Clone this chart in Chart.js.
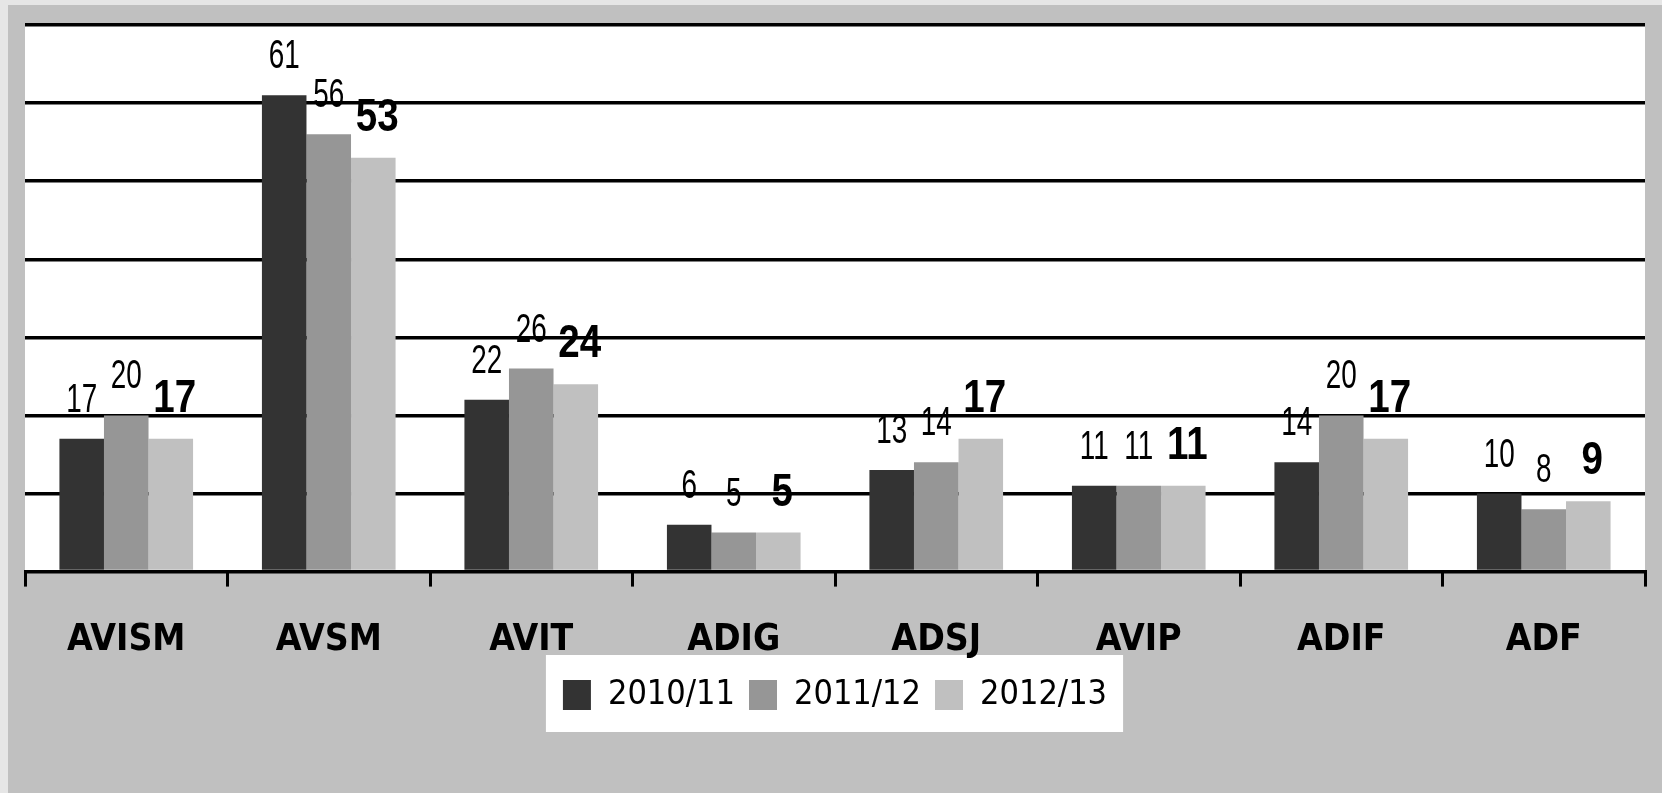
<!DOCTYPE html>
<html>
<head>
<meta charset="utf-8">
<script src="https://cdn.jsdelivr.net/npm/chart.js@4"></script>
<style>
    html, body { margin: 0; padding: 0; background: #e6e6e6; }
    #wrap { position: relative; width: 1662px; height: 793px; }
</style>
</head>
<body>
<div id="wrap"><canvas id="chart"></canvas></div>
<script>
// カテゴリと系列データ
const categories = ['AVISM', 'AVSM', 'AVIT', 'ADIG', 'ADSJ', 'AVIP', 'ADIF', 'ADF'];
const seriesNames = ['2010/11', '2011/12', '2012/13'];
const values2010 = [17, 61, 22, 6, 13, 11, 14, 10];
const values2011 = [20, 56, 26, 5, 14, 11, 20, 8];
const values2012 = [17, 53, 24, 5, 17, 11, 17, 9];
const yTicks = [0, 10, 20, 30, 40, 50, 60, 70];

const COLORS = ['#333333', '#969696', '#c0c0c0'];
const FONT = '"DejaVu Sans Condensed", "Liberation Sans", sans-serif';
const LABEL_FONT = '"Liberation Sans", Arial, sans-serif';

// 背景（外枠・プロット領域・凡例の白い箱）
const backgroundPlugin = {
    id: 'background',
    beforeDraw(chart) {
        const ctx = chart.ctx;
        const area = chart.chartArea;
        ctx.save();
        ctx.fillStyle = '#e6e6e6';
        ctx.fillRect(0, 0, chart.width, chart.height);
        ctx.fillStyle = '#c0c0c0';
        ctx.fillRect(8, 5, chart.width - 8, chart.height - 5);
        ctx.fillStyle = '#ffffff';
        ctx.fillRect(area.left, area.top, area.right - area.left, area.bottom - area.top);

        const boxes = chart.legend && chart.legend.legendHitBoxes;
        if (boxes && boxes.length) {
            const left = Math.min(...boxes.map(b => b.left)) - 17;
            const right = Math.max(...boxes.map(b => b.left + b.width)) + 16;
            const cy = boxes[0].top + boxes[0].height / 2;
            ctx.fillRect(left, cy - 40, right - left, 77);
        }
        ctx.restore();
    }
};

// 棒の上に値を描く（2012/13 は太字）
const valueLabelPlugin = {
    id: 'valueLabels',
    afterDatasetsDraw(chart) {
        const ctx = chart.ctx;
        chart.data.datasets.forEach((ds, i) => {
            const meta = chart.getDatasetMeta(i);
            const bold = i === 2;
            meta.data.forEach((bar, j) => {
                const x = bar.x + (bold ? 4 : 0);
                const y = bar.y - 27;
                ctx.save();
                ctx.font = (bold ? 'bold 47px ' : 'normal 41px ') + LABEL_FONT;
                ctx.fillStyle = '#000000';
                ctx.textAlign = 'center';
                ctx.textBaseline = 'alphabetic';
                ctx.translate(x, y);
                ctx.scale(bold ? 0.82 : 0.68, 1);
                ctx.fillText(String(ds.data[j]), 0, 0);
                ctx.restore();
            });
        });
    }
};

const datasets = [values2010, values2011, values2012].map((vals, i) => ({
    label: seriesNames[i],
    data: vals,
    backgroundColor: COLORS[i],
    borderWidth: 0,
    categoryPercentage: 0.66,
    barPercentage: 1.0
}));

new Chart(document.getElementById('chart'), {
    type: 'bar',
    data: { labels: categories, datasets: datasets },
    options: {
        animation: false,
        responsive: true,
        maintainAspectRatio: false,
        layout: { padding: { left: 25, right: 17, top: 25, bottom: 71 } },
        plugins: {
            tooltip: { enabled: false },
            legend: {
                position: 'bottom',
                labels: {
                    color: '#000000',
                    font: { family: FONT, size: 34 },
                    boxWidth: 28,
                    boxHeight: 30,
                    padding: 14
                }
            }
        },
        scales: {
            x: {
                offset: true,
                grid: {
                    offset: true,
                    drawOnChartArea: false,
                    drawTicks: true,
                    tickLength: 15,
                    color: '#000000',
                    lineWidth: 3
                },
                border: { display: true, color: '#000000', width: 3 },
                ticks: {
                    color: '#000000',
                    font: { family: FONT, size: 37, weight: 'bold' },
                    padding: 32,
                    maxRotation: 0
                },
                afterFit(scale) {
                    scale.height -= 31; // 凡例を軸ラベルに近づける
                }
            },
            y: {
                min: yTicks[0],
                max: yTicks[yTicks.length - 1],
                afterBuildTicks(scale) {
                    scale.ticks = yTicks.map(v => ({ value: v }));
                },
                grid: {
                    color: '#000000',
                    lineWidth: 3.5,
                    drawTicks: false,
                    tickLength: 0
                },
                border: { display: false },
                ticks: { display: false }
            }
        }
    },
    plugins: [backgroundPlugin, valueLabelPlugin]
});
</script>
</body>
</html>
